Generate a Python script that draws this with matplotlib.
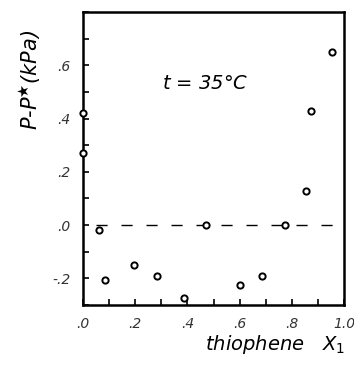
import matplotlib.pyplot as plt
import numpy as np

# data (thiophene mole fraction vs P - P*)
x1 = [0.0, 0.0, 0.06, 0.085, 0.196, 0.285, 0.385, 0.47, 0.60, 0.685, 0.773, 0.854, 0.873, 0.954]
dp = [0.42, 0.27, -0.02, -0.205, -0.15, -0.193, -0.275, 0.0, -0.226, -0.19, 0.0, 0.128, 0.43, 0.65]

xticks = [0.0, 0.2, 0.4, 0.6, 0.8, 1.0]
xlabels = ['.0', '.2', '.4', '.6', '.8', '1.0']
yticks = [-0.2, 0.0, 0.2, 0.4, 0.6]
ylabels = ['-.2', '.0', '.2', '.4', '.6']

plt.rcParams['mathtext.fontset'] = 'dejavusans'

fig = plt.figure(figsize=(3.54, 3.65), dpi=100)
ax = fig.add_axes([0.2345, 0.1644, 0.7375, 0.8026])

# zero line
ax.plot([0.05, 1.0], [0, 0], color='black', lw=1.0, dashes=(8, 10))
ax.plot(x1, dp, 'o', ms=4.5, mfc='white', mec='black', mew=1.4, ls='none',
        zorder=3, clip_on=False)

ax.set_xlim(0, 1.0)
ax.set_ylim(-0.3, 0.8)

ax.set_xticks(np.arange(0, 1.01, 0.1), minor=True)
ax.set_yticks(np.arange(-0.3, 0.81, 0.1), minor=True)
ax.set_xticks(xticks)
ax.set_xticklabels(xlabels)
ax.set_yticks(yticks)
ax.set_yticklabels(ylabels)
ax.tick_params(which='both', direction='in', length=4, width=1.2)
ax.tick_params(axis='x', pad=9)
ax.tick_params(axis='y', pad=9)
for lab in ax.get_xticklabels() + ax.get_yticklabels():
    lab.set_fontstyle('italic')
    lab.set_fontsize(10)
    lab.set_color('#333333')

for s in ax.spines.values():
    s.set_linewidth(1.8)

ax.text(0.47, 0.53, r'$t$ = 35°C', fontsize=14, style='italic', ha='center', va='center')

fig.text(0.085, 0.78, r'P-P$^{\bigstar}$(kPa)', rotation=90, fontsize=15,
         style='italic', ha='center', va='center')
fig.text(0.975, 0.055, r'thiophene   X$_1$', fontsize=14, style='italic',
         ha='right', va='center')

fig.savefig('out.png', dpi=100)
